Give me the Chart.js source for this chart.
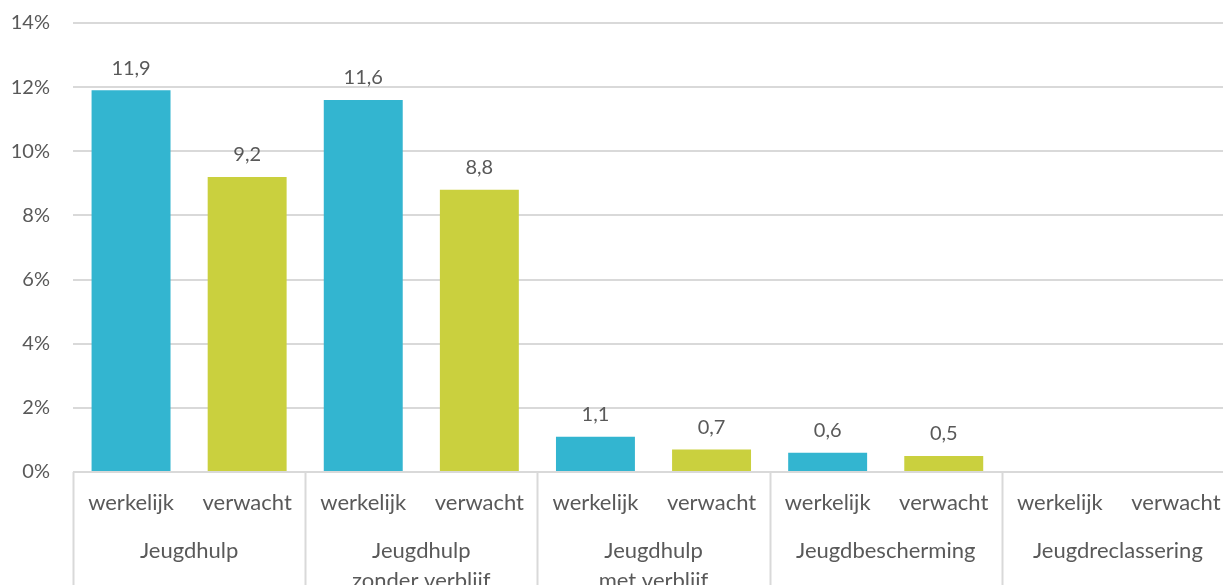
<!DOCTYPE html>
<html>
<head>
<meta charset="utf-8">
<script src="https://cdn.jsdelivr.net/npm/chart.js@4/dist/chart.umd.min.js"></script>
<style>
  html, body { margin: 0; padding: 0; background: #fff; overflow: hidden; }
  #wrap { position: relative; width: 1235px; height: 585px; }
</style>
</head>
<body>
<div id="wrap"><canvas id="chart"></canvas></div>
<script>
// chart values
const groups = [['Jeugdhulp'], ['Jeugdhulp', 'zonder verblijf'], ['Jeugdhulp', 'met verblijf'], ['Jeugdbescherming'], ['Jeugdreclassering']];
const subLabels = ['werkelijk', 'verwacht'];
const werkelijk = [11.9, 11.6, 1.1, 0.6, null];
const verwacht = [9.2, 8.8, 0.7, 0.5, null];
const yMax = 14;
const yStep = 2;

const textColor = '#595959';
const fontFamily = 'Lato, "Open Sans", sans-serif';
const colors = ['#33b5d0', '#cad03e'];

// one category per bar, alternating werkelijk / verwacht
let labels = [], values = [], barColors = [];
groups.forEach((g, i) => {
    labels.push(g.join(' ') + ' werkelijk', g.join(' ') + ' verwacht');
    values.push(werkelijk[i], verwacht[i]);
    barColors.push(colors[0], colors[1]);
});

// draws the two-level category axis and the value labels
const axisPlugin = {
    id: 'axisPlugin',
    afterDraw(chart) {
        const ctx = chart.ctx;
        const x = chart.scales.x, y = chart.scales.y;
        const area = chart.chartArea;
        const y0 = y.getPixelForValue(0);
        const catW = (area.right - area.left) / labels.length;
        ctx.save();
        // separators between groups
        ctx.strokeStyle = '#d9d9d9';
        ctx.lineWidth = 2;
        for (let g = 0; g <= groups.length; g++) {
            const px = Math.round(area.left + g * catW * 2) + 0.5;
            ctx.beginPath();
            ctx.moveTo(px, y0);
            ctx.lineTo(px, chart.height);
            ctx.stroke();
        }
        ctx.fillStyle = textColor;
        ctx.font = '22px ' + fontFamily;
        ctx.textAlign = 'center';
        ctx.textBaseline = 'middle';
        labels.forEach((l, i) => {
            ctx.fillText(subLabels[i % 2], x.getPixelForValue(i), y0 + 31);
        });
        groups.forEach((g, i) => {
            const cx = area.left + (i * 2 + 1) * catW;
            g.forEach((line, j) => ctx.fillText(line, cx, y0 + 79 + j * 30));
        });
        // value labels above bars
        ctx.font = '20px ' + fontFamily;
        const meta = chart.getDatasetMeta(0);
        meta.data.forEach((bar, i) => {
            if (values[i] == null) return;
            ctx.fillText(values[i].toFixed(1).replace('.', ','), bar.x, bar.y - 22);
        });
        ctx.restore();
    }
};

new Chart('chart', {
    type: 'bar',
    data: {
        labels,
        datasets: [{
            data: values,
            backgroundColor: barColors,
            barPercentage: 0.8,
            categoryPercentage: 0.85
        }]
    },
    options: {
        responsive: true,
        maintainAspectRatio: false,
        animation: false,
        layout: { padding: { top: 23, bottom: 113, right: 1 } },
        plugins: { legend: { display: false }, tooltip: { enabled: false } },
        scales: {
            x: { display: false },
            y: {
                min: 0,
                max: yMax,
                afterFit(scale) {
                    scale.width = 73;
                    scale.paddingTop = 0; // tick padding would otherwise push the plot down
                    scale.paddingBottom = 0;
                },
                ticks: {
                    stepSize: yStep,
                    padding: 23,
                    color: textColor,
                    font: { family: fontFamily, size: 20 },
                    callback: v => v + '%'
                },
                grid: { color: '#d9d9d9', lineWidth: 2, drawTicks: false },
                border: { display: false }
            }
        }
    },
    plugins: [axisPlugin]
});
</script>
</body>
</html>
